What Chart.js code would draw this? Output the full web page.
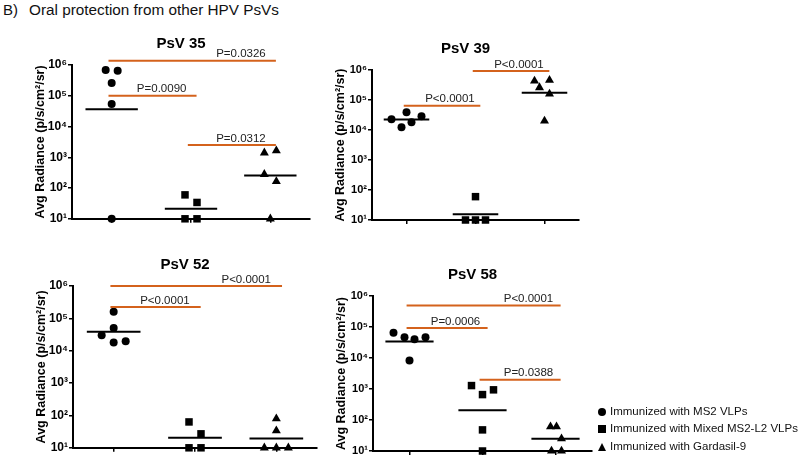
<!DOCTYPE html>
<html>
<head>
<meta charset="utf-8">
<script src="https://cdn.jsdelivr.net/npm/chart.js"></script>
<style>
  body { margin: 0; background: #fff; font-family: "Liberation Sans", Arial, Helvetica, sans-serif; }
  #page { position: relative; width: 800px; height: 460px; overflow: hidden; }
  canvas { position: absolute; }
  .txt { position: absolute; white-space: nowrap; color: #111; }
  .mk { position: absolute; background: #000; }
</style>
</head>
<body>
<div id="page">
  <div class="txt" style="left:3px;top:1px;font-size:15px">B)</div>
  <div class="txt" style="left:29px;top:1px;font-size:15.3px">Oral protection from other HPV PsVs</div>

  <canvas id="c35"></canvas>
  <canvas id="c39"></canvas>
  <canvas id="c52"></canvas>
  <canvas id="c58"></canvas>

  <div class="mk" style="left:598px;top:408px;width:8px;height:8px;border-radius:50%"></div>
  <div class="mk" style="left:598px;top:425px;width:8px;height:8px"></div>
  <div style="position:absolute;left:598px;top:443px;width:0;height:0;border-left:4.5px solid transparent;border-right:4.5px solid transparent;border-bottom:8px solid #000"></div>
  <div class="txt" id="leg0" style="left:610px;top:404px;font-size:11.5px;line-height:14px"></div>
  <div class="txt" id="leg1" style="left:610px;top:421px;font-size:11.5px;line-height:14px"></div>
  <div class="txt" id="leg2" style="left:610px;top:439px;font-size:11.5px;line-height:14px"></div>
</div>

<script>
// groups (legend)
const groups = ['Immunized with MS2 VLPs', 'Immunized with Mixed MS2-L2 VLPs', 'Immunized with Gardasil-9'];

// y ticks
const tickValues = [1e1, 1e2, 1e3, 1e4, 1e5, 1e6];
const tickLabels = ['10¹', '10²', '10³', '10⁴', '10⁵', '10⁶'];
const yTitle = 'Avg Radiance (p/s/cm²/sr)';

// PsV 35
const ms2_35 = [690000, 650000, 260000, 54000, 10];
const mixed_35 = [60, 34, 10, 10];
const gard_35 = [1400, 1650, 280, 163, 10];
const pairs35 = [[0, 2], [0, 1], [1, 2]];
const pvals35 = ['P=0.0326', 'P=0.0090', 'P=0.0312'];

// PsV 39
const ms2_39 = [23000, 39000, 12300, 18000, 29000];
const mixed_39 = [60, 10, 10, 10];
const gard_39 = [430000, 260000, 460000, 160000, 20000];
const pairs39 = [[0, 1], [1, 2]];
const pvals39 = ['P<0.0001', 'P<0.0001'];

// PsV 52
const ms2_52 = [160000, 50000, 30000, 18000, 19500];
const mixed_52 = [63, 27, 10, 10];
const gard_52 = [79, 34, 10, 10, 10];
const pairs52 = [[0, 1], [0, 2]];
const pvals52 = ['P<0.0001', 'P<0.0001'];

// PsV 58
const ms2_58 = [65000, 47000, 40000, 47000, 8300];
const mixed_58 = [1290, 660, 940, 48, 10];
const gard_58 = [61, 61, 25, 10, 10];
const pairs58 = [[0, 2], [0, 1], [1, 2]];
const pvals58 = ['P<0.0001', 'P=0.0006', 'P=0.0388'];

// layout: horizontal spread of dots (px) and bracket heights (log10)
const spread35 = [[-6, 6, 0, 0, 0], [-6, 6, -6, 6], [-6, 6, -6, 6, 0]];
const spread39 = [[-15, 0, -5, 5, 15], [0, -10, 0, 10], [-10, -5, 5, 5, 0]];
const spread52 = [[0, 0, -12, 0, 12], [-6, 6, -6, 6], [0, 0, -12, 0, 12]];
const spread58 = [[-16, -5, 5, 16, 0], [-11, 0, 11, 0, 0], [-5, 1, 6, -4, 6]];
const level35 = [6.14, 5.0, 3.4];
const level39 = [4.81, 5.97];
const level52 = [5.35, 6.0];
const level58 = [5.69, 4.97, 3.3];

const FONT = '"Liberation Sans", Arial, Helvetica, sans-serif';
const ORANGE = '#d4621c';

groups.forEach((g, i) => document.getElementById('leg' + i).textContent = g);

const sigPlugin = {
  id: 'sig',
  afterDraw(chart, args, opts) {
    const { ctx, chartArea, scales: { x, y } } = chart;
    ctx.save();
    ctx.fillStyle = '#000';
    ctx.textAlign = 'center';
    ctx.textBaseline = 'middle';
    ctx.font = 'bold 15px ' + FONT;
    ctx.fillText(opts.title, (chartArea.left + chartArea.right) / 2 - 10, chartArea.top - 21);

    ctx.font = '11.5px ' + FONT;
    opts.pairs.forEach((p, i) => {
      const yy = y.getPixelForValue(Math.pow(10, opts.levels[i]));
      const x1 = x.getPixelForValue(p[0] - 0.04);
      const x2 = x.getPixelForValue(p[1] + 0.07);
      ctx.strokeStyle = ORANGE;
      ctx.lineWidth = 2;
      ctx.beginPath();
      ctx.moveTo(x1, yy);
      ctx.lineTo(x2, yy);
      ctx.stroke();
      ctx.fillStyle = '#222';
      ctx.fillText(opts.labels[i], x.getPixelForValue(p[1] - 0.37), yy - 6.5);
    });
    ctx.restore();
  }
};

function makePanel(id, box, title, values, spread, pairs, labels, levels, tickSize) {
  const canvas = document.getElementById(id);
  canvas.width = box.r - box.l + 82;
  canvas.height = box.b - box.t + 58;
  canvas.style.left = (box.l - 70) + 'px';
  canvas.style.top = (box.t - 50) + 'px';
  const unit = (box.r - box.l) / 3;

  const shapes = ['circle', 'rect', 'triangle'];
  const radii = [4, 5.3, 5.2];
  const datasets = values.map((vals, g) => ({
    type: 'scatter',
    data: vals.map((v, i) => ({ x: g + spread[g][i] / unit, y: v })),
    pointStyle: shapes[g],
    pointRadius: radii[g],
    pointHoverRadius: radii[g],
    backgroundColor: '#000',
    borderColor: '#000',
    borderWidth: 0,
    clip: false
  }));
  // geometric mean line of each group
  values.forEach((vals, g) => {
    const gm = Math.pow(10, vals.reduce((s, v) => s + Math.log10(v), 0) / vals.length);
    datasets.push({
      type: 'line',
      data: [{ x: g - 0.33, y: gm }, { x: g + 0.33, y: gm }],
      borderColor: '#000',
      borderWidth: 2,
      pointRadius: 0,
      clip: false
    });
  });

  return new Chart(canvas, {
    type: 'scatter',
    data: { datasets: datasets },
    options: {
      responsive: false,
      animation: false,
      events: [],
      layout: { autoPadding: false, padding: { left: 0, top: 50, right: 12, bottom: 0 } },
      plugins: {
        legend: { display: false },
        tooltip: { enabled: false },
        sig: { title: title, pairs: pairs, labels: labels, levels: levels }
      },
      scales: {
        x: {
          type: 'linear',
          min: -0.5,
          max: 2.5,
          afterBuildTicks: (s) => { s.ticks = [0, 1, 2].map(v => ({ value: v })); },
          afterFit: (s) => { s.height = 8; },
          ticks: { display: false },
          grid: { drawOnChartArea: false, drawTicks: true, tickLength: 4, color: '#000', lineWidth: 1.5 },
          border: { display: true, color: '#000', width: 2 }
        },
        y: {
          type: 'logarithmic',
          min: 10,
          max: 1e6,
          afterBuildTicks: (s) => { s.ticks = tickValues.map(v => ({ value: v })); },
          afterFit: (s) => { s.width = 70; },
          ticks: {
            padding: 1,
            color: '#000',
            font: { family: FONT, size: tickSize, weight: 'bold' },
            callback: (v) => tickLabels[tickValues.indexOf(v)]
          },
          grid: { drawOnChartArea: false, drawTicks: true, tickLength: 4, color: '#000', lineWidth: 1.5 },
          border: { display: true, color: '#000', width: 2 },
          title: {
            display: true,
            text: yTitle,
            color: '#000',
            font: { family: FONT, size: 12.5, weight: 'bold' },
            padding: { top: 31.5, bottom: 0 }
          }
        }
      }
    },
    plugins: [sigPlugin]
  });
}

makePanel('c35', { l: 72, t: 65, r: 310, b: 219 }, 'PsV 35',
  [ms2_35, mixed_35, gard_35], spread35, pairs35, pvals35, level35, 12);
makePanel('c39', { l: 372, t: 70, r: 579, b: 220 }, 'PsV 39',
  [ms2_39, mixed_39, gard_39], spread39, pairs39, pvals39, level39, 11);
makePanel('c52', { l: 73, t: 286, r: 317, b: 448 }, 'PsV 52',
  [ms2_52, mixed_52, gard_52], spread52, pairs52, pvals52, level52, 12);
makePanel('c58', { l: 373, t: 296, r: 592, b: 451 }, 'PsV 58',
  [ms2_58, mixed_58, gard_58], spread58, pairs58, pvals58, level58, 11);
</script>
</body>
</html>
